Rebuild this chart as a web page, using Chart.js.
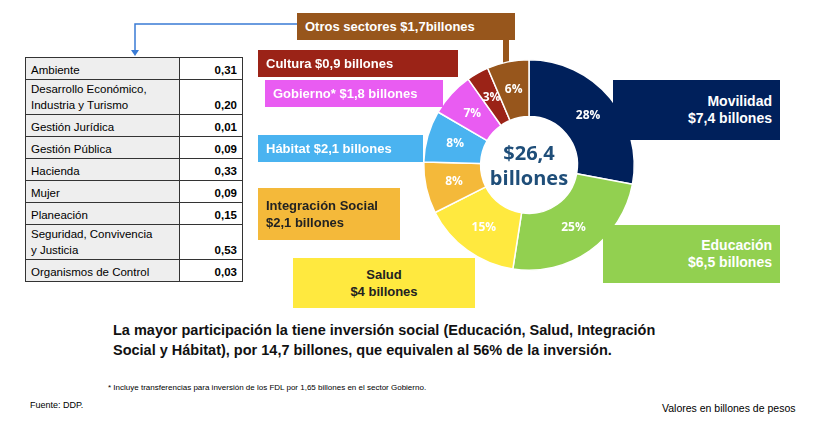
<!DOCTYPE html>
<html>
<head>
<meta charset="utf-8">
<script src="https://cdn.jsdelivr.net/npm/chart.js@4"></script>
<style>
  body { margin: 0; width: 838px; height: 427px; background: #fff; font-family: "Liberation Sans", Arial, sans-serif; position: relative; overflow: hidden; }
  .box { position: absolute; font-weight: bold; font-size: 13px; box-sizing: border-box; padding: 0 8px; display: flex; flex-direction: column; justify-content: center; line-height: 17px; }
  #wrap { position: absolute; left: 419px; top: 55px; width: 220px; height: 220px; }
  table { position: absolute; left: 25px; top: 57px; width: 218px; border-collapse: collapse; font-size: 11.5px; }
  td { border: 1px solid #333; padding: 1px 5px; height: 19px; vertical-align: bottom; line-height: 16px; }
  td.l { background: #eee; }
  td.r { text-align: right; font-weight: bold; width: 52px; }
  .txt { position: absolute; }
</style>
</head>
<body>
<svg width="838" height="427" style="position:absolute;left:0;top:0">
  <polyline points="297,24 135,24 135,52" fill="none" stroke="#3a7bd5" stroke-width="1.5"/>
  <polygon points="131,50 139,50 135,56" fill="#3a7bd5"/>
  <line x1="506" y1="40" x2="506" y2="64" stroke="#97561c" stroke-width="6"/>
</svg>
<table id="tbl"></table>
<div id="wrap"><canvas id="donut"></canvas></div>
<div id="boxes"></div>
<div class="txt" style="left:113px;top:320px;font-size:14.5px;font-weight:bold;line-height:20px;color:#111">La mayor participación la tiene inversión social (Educación, Salud, Integración<br>Social y Hábitat), por 14,7 billones, que equivalen al 56% de la inversión.</div>
<div class="txt" style="left:108px;top:383px;font-size:8px">* Incluye transferencias para inversión de los FDL por 1,65 billones en el sector Gobierno.</div>
<div class="txt" style="left:30px;top:400px;font-size:9px">Fuente: DDP.</div>
<div class="txt" style="left:662px;top:402px;font-size:10.5px">Valores en billones de pesos</div>
<script>
const sectores = ['Movilidad', 'Educación', 'Salud', 'Integración Social', 'Hábitat', 'Gobierno', 'Cultura', 'Otros sectores'];
const valores = [7.4, 6.5, 4, 2.1, 2.1, 1.8, 0.9, 1.7];
const porcentajes = ['28%', '25%', '15%', '8%', '8%', '7%', '3%', '6%'];
const colores = ['#00205b', '#92d050', '#ffe93f', '#f4b93a', '#4ab3f0', '#e95cf2', '#9b2317', '#97561c'];
const etiquetas = ['Movilidad<br>$7,4 billones', 'Educación<br>$6,5 billones', 'Salud<br>$4 billones', 'Integración Social<br>$2,1 billones', 'Hábitat $2,1 billones', 'Gobierno* $1,8 billones', 'Cultura $0,9 billones', 'Otros sectores $1,7billones'];
const otrosNombres = ['Ambiente', 'Desarrollo Económico,<br>Industria y Turismo', 'Gestión Jurídica', 'Gestión Pública', 'Hacienda', 'Mujer', 'Planeación', 'Seguridad, Convivencia<br>y Justicia', 'Organismos de Control'];
const otrosValores = ['0,31', '0,20', '0,01', '0,09', '0,33', '0,09', '0,15', '0,53', '0,03'];

// cajas de etiquetas: [left, top, width, height, color texto, alineacion]
const cajas = [
    [613, 80, 167, 60, '#fff', 'right'],
    [603, 225, 177, 58, '#fff', 'right'],
    [293, 258, 182, 50, '#222', 'center'],
    [258, 188, 142, 52, '#222', 'left'],
    [258, 135, 165, 27, '#fff', 'left'],
    [265, 80, 178, 27, '#fff', 'left'],
    [258, 50, 200, 27, '#fff', 'left'],
    [297, 13, 218, 27, '#fff', 'left']
];
const boxes = document.getElementById('boxes');
cajas.forEach((c, i) => {
    const d = document.createElement('div');
    d.className = 'box';
    d.style.cssText = `left:${c[0]}px;top:${c[1]}px;width:${c[2]}px;height:${c[3]}px;background:${colores[i]};color:${c[4]};text-align:${c[5]};font-size:${i < 2 ? 14 : 13}px`;
    d.innerHTML = etiquetas[i];
    boxes.appendChild(d);
});

const tbl = document.getElementById('tbl');
otrosNombres.forEach((n, i) => {
    tbl.innerHTML += `<tr><td class="l">${n}</td><td class="r">${otrosValores[i]}</td></tr>`;
});

const centro = {
    id: 'centro',
    afterDraw(chart) {
        const ctx = chart.ctx;
        const meta = chart.getDatasetMeta(0);
        ctx.save();
        ctx.textAlign = 'center';
        ctx.textBaseline = 'middle';
        ctx.fillStyle = '#fff';
        ctx.font = 'bold 12px "Open Sans", sans-serif';
        meta.data.forEach((arc, i) => {
            const p = arc.tooltipPosition();
            ctx.fillText(porcentajes[i], p.x, p.y);
        });
        const c = meta.data[0];
        ctx.fillStyle = '#1f4e79';
        ctx.font = 'bold 20px "Open Sans", sans-serif';
        ctx.fillText('$26,4', c.x, c.y - 11);
        ctx.fillText('billones', c.x, c.y + 14);
        ctx.restore();
    }
};

new Chart(document.getElementById('donut'), {
    type: 'doughnut',
    data: {
        labels: sectores,
        datasets: [{ data: valores, backgroundColor: colores, borderColor: '#fff', borderWidth: 1.5 }]
    },
    options: {
        responsive: true,
        maintainAspectRatio: false,
        animation: false,
        cutout: '46%',
        layout: { padding: 4 },
        plugins: { legend: { display: false }, tooltip: { enabled: false } }
    },
    plugins: [centro]
});
</script>
</body>
</html>
